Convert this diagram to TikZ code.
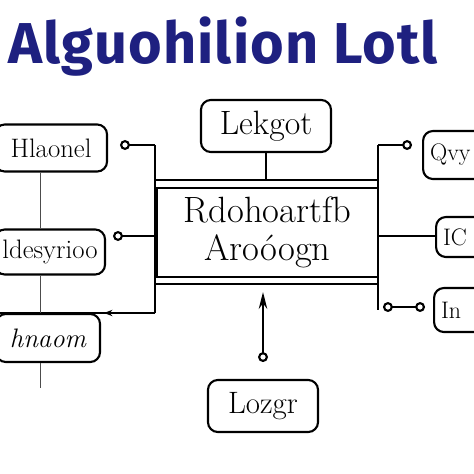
\documentclass[tikz,border=0pt]{standalone}
\usepackage{fontspec}
\usetikzlibrary{arrows.meta}
\newfontfamily\handfont{Fira Sans}[LetterSpace=2]
\definecolor{inknavy}{RGB}{30,32,128}

\def\frameL{155}
\def\frameR{378}

\tikzset{
	sketchbox/.style={draw,line width=1.5pt,rounded corners=7pt,inner sep=0pt,
		font=\fontsize{19}{20}\selectfont},
	edgebox/.style={sketchbox,anchor=west,text width=1.5cm,align=left,inner xsep=5pt,
		font=\fontsize{17}{18}\selectfont},
	wire/.style={line width=1.5pt},
	knob/.style={wire,{Circle[open,length=7pt,width=7pt]}-},
	thin/.style={line width=0.6pt,black!70}
}

\begin{document}
\begin{tikzpicture}[x=0.025cm,y=-0.025cm]
			\useasboundingbox (0,0) rectangle (474,474);
			\clip (0,0) rectangle (474,474);

			% title
			\node[anchor=base west,inner sep=0pt,text=inknavy,font=\handfont\bfseries\fontsize{41}{41}\selectfont] (title) at (8,63) {Alguohilion Lotl};

			% center block
			\node[draw,line width=1.5pt,minimum width=5.525cm,minimum height=2.225cm,align=center,
				font=\fontsize{26}{27}\selectfont] (algo) at (267.5,232.5) {Rdohoartfb\\Aroóogn};
			\coordinate (tl) at (\frameL,145);
			\coordinate (tr) at (\frameR,145);
			\coordinate (bl) at (\frameL,313);
			\coordinate (br) at (\frameR,310);
			\draw[wire] (tl) -- (bl);
			\draw[wire] (tr) -- (br);
			\draw[wire] (\frameL,180) -- (\frameR,180);
			\draw[wire] (\frameL,284) -- (\frameR,284);

			% top
			\node[sketchbox,minimum width=3.25cm,minimum height=1.3cm,font=\fontsize{24}{24}\selectfont] (lekgot) at (266,126) {Lekgot};
			\draw[wire] (lekgot.south) -- (lekgot.south |- 0,180);

			% left side
			\node[sketchbox,minimum width=2.8cm,minimum height=1.175cm] (hlaonel) at (51,148) {Hlaonel};
			\node[sketchbox,minimum width=2.75cm,minimum height=1.125cm] (desyr) at (50,252) {ldesyrioo};
			\node[sketchbox,minimum width=2.6cm,minimum height=1.2cm,font=\itshape\fontsize{19}{20}\selectfont] (hnaom) at (48,338) {hnaom};
			\coordinate (ml) at (\frameL,236);
			\coordinate (down) at (40,388);
			\draw[knob] (hlaonel.east |- tl) ++(12,0) -- (tl);
			\draw[knob] (desyr.east |- ml) ++(7,0) -- (ml);
			\draw[wire] (bl) -- (0,313);
			\draw[wire,-{Stealth[open,length=6pt]}] (bl) -- (104,313);
			\draw[thin] (hlaonel.south -| down) -- (desyr.north -| down);
			\draw[thin] (desyr.south -| down) -- (hnaom.north -| down);
			\draw[thin] (hnaom.south -| down) -- (down);
			\draw[wire] (140,236) -- (ml);

			% right side
			\node[edgebox,minimum height=1.2cm] (qvy) at (422,155) {Qvy};
			\node[edgebox,minimum height=1.0cm] (ico) at (435,237) {IC};
			\node[edgebox,minimum height=1.1cm] (ino) at (433,310) {In};
			\coordinate (mr) at (\frameR,236);
			\coordinate (lr) at (\frameR,307);
			\draw[knob] (qvy.west |- tr) ++(-10,0) -- (tr);
			\draw[wire] (mr) -- (ico.west |- mr);
			\draw[wire,{Circle[open,length=7pt,width=7pt]}-{Circle[open,length=7pt,width=7pt]}] (lr) ++(5,0) -- (425,307);

			% bottom
			\node[sketchbox,minimum width=2.75cm,minimum height=1.3cm,font=\fontsize{22}{22}\selectfont] (lozgr) at (263,406) {Lozgr};
			\coordinate (tip) at (263,292);
			\draw[wire,{Circle[open,length=7pt,width=7pt]}-{Stealth[length=12pt,width=6pt]}] (263,362) -- (tip);
\end{tikzpicture}
\end{document}
